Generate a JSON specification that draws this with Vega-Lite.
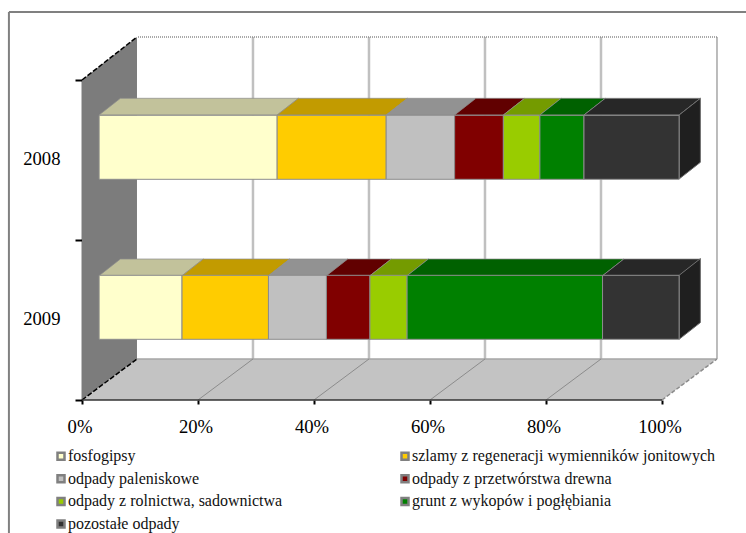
{
  "$schema": "https://vega.github.io/schema/vega-lite/v6.json",
  "width": 636,
  "height": 363,
  "padding": {"left": 82, "top": 37, "right": 28, "bottom": 133},
  "autosize": {"type": "none"},
  "background": "white",
  "config": {
    "font": "Liberation Serif",
    "view": {"stroke": null},
    "axis": {"labelFont": "Liberation Serif", "labelFontSize": 18.67, "labelColor": "#000000", "grid": false, "title": null},
    "legend": {"labelFont": "Liberation Serif", "labelFontSize": 16, "labelColor": "#111111"}
  },
  "datasets": {
    "shares": [
      {"year": "2008", "series": "fosfogipsy", "value": 30.7},
      {"year": "2008", "series": "szlamy z regeneracji wymienników jonitowych", "value": 18.8},
      {"year": "2008", "series": "odpady paleniskowe", "value": 11.8},
      {"year": "2008", "series": "odpady z przetwórstwa drewna", "value": 8.4},
      {"year": "2008", "series": "odpady z rolnictwa, sadownictwa", "value": 6.3},
      {"year": "2008", "series": "grunt z wykopów i pogłębiania", "value": 7.6},
      {"year": "2008", "series": "pozostałe odpady", "value": 16.4},
      {"year": "2009", "series": "fosfogipsy", "value": 14.3},
      {"year": "2009", "series": "szlamy z regeneracji wymienników jonitowych", "value": 14.9},
      {"year": "2009", "series": "odpady paleniskowe", "value": 10.0},
      {"year": "2009", "series": "odpady z przetwórstwa drewna", "value": 7.5},
      {"year": "2009", "series": "odpady z rolnictwa, sadownictwa", "value": 6.4},
      {"year": "2009", "series": "grunt z wykopów i pogłębiania", "value": 33.7},
      {"year": "2009", "series": "pozostałe odpady", "value": 13.2}
    ],
    "wallLeft": [
      {"x": 0, "y": 0, "y2": 320},
      {"x": 9.48, "y": 41, "y2": 363}
    ],
    "floor": [
      {"y": 0, "x": 0, "x2": 100},
      {"y": 41, "x": 9.48, "x2": 109.48}
    ],
    "gridBack": [
      {"x": 29.48}, {"x": 49.48}, {"x": 69.48}, {"x": 89.48}
    ],
    "floorLines": [
      {"id": "20", "x": 20, "y": 0}, {"id": "20", "x": 29.48, "y": 41},
      {"id": "40", "x": 40, "y": 0}, {"id": "40", "x": 49.48, "y": 41},
      {"id": "60", "x": 60, "y": 0}, {"id": "60", "x": 69.48, "y": 41},
      {"id": "80", "x": 80, "y": 0}, {"id": "80", "x": 89.48, "y": 41}
    ]
  },
  "layer": [
    {
      "description": "outer frame of the chart area",
      "data": {"values": [{"x": -12.6, "x2": 114.5, "y": 388, "y2": -133}]},
      "layer": [
        {
          "mark": {"type": "rule", "color": "#808080", "strokeWidth": 2},
          "encoding": {
            "x": {"field": "x", "type": "quantitative", "axis": null, "scale": {"domain": [0, 109.655], "nice": false, "zero": false}},
            "x2": {"field": "x2"},
            "y": {"field": "y", "type": "quantitative", "axis": null, "scale": {"domain": [0, 363], "nice": false}}
          }
        },
        {
          "mark": {"type": "rule", "color": "#808080", "strokeWidth": 2},
          "encoding": {
            "x": {"field": "x", "type": "quantitative", "axis": null, "scale": {"domain": [0, 109.655], "nice": false, "zero": false}},
            "y": {"field": "y", "type": "quantitative", "axis": null, "scale": {"domain": [0, 363], "nice": false}},
            "y2": {"field": "y2"}
          }
        }
      ]
    },
    {
      "description": "left wall",
      "data": {"name": "wallLeft"},
      "mark": {"type": "area", "orient": "vertical", "color": "#7c7c7c"},
      "encoding": {
        "x": {"field": "x", "type": "quantitative", "axis": null, "scale": {"domain": [0, 109.655], "nice": false, "zero": false}},
        "y": {"field": "y", "type": "quantitative", "axis": null, "scale": {"domain": [0, 363], "nice": false}},
        "y2": {"field": "y2"}
      }
    },
    {
      "description": "floor",
      "data": {"name": "floor"},
      "mark": {"type": "area", "orient": "horizontal", "color": "#c3c3c3"},
      "encoding": {
        "y": {"field": "y", "type": "quantitative", "axis": null, "scale": {"domain": [0, 363], "nice": false}},
        "x": {"field": "x", "type": "quantitative", "axis": null, "scale": {"domain": [0, 109.655], "nice": false, "zero": false}},
        "x2": {"field": "x2"}
      }
    },
    {
      "description": "vertical gridlines on the back wall",
      "data": {"name": "gridBack"},
      "mark": {"type": "rule", "color": "#c0c0c0", "strokeWidth": 2.5},
      "encoding": {
        "x": {"field": "x", "type": "quantitative", "axis": null, "scale": {"domain": [0, 109.655], "nice": false, "zero": false}},
        "y": {"datum": 41, "type": "quantitative", "axis": null, "scale": {"domain": [0, 363], "nice": false}},
        "y2": {"datum": 363}
      }
    },
    {
      "description": "right edge, back edge of the floor and dotted top edge",
      "data": {"values": [{"x": 109.48, "x2": 9.48}]},
      "layer": [
        {
          "mark": {"type": "rule", "color": "#a6a6a6", "strokeWidth": 1.5},
          "encoding": {
            "x": {"field": "x", "type": "quantitative", "axis": null, "scale": {"domain": [0, 109.655], "nice": false, "zero": false}},
            "y": {"datum": 41, "type": "quantitative", "axis": null, "scale": {"domain": [0, 363], "nice": false}},
            "y2": {"datum": 363}
          }
        },
        {
          "mark": {"type": "rule", "color": "#a6a6a6", "strokeWidth": 1.5},
          "encoding": {
            "x": {"field": "x", "type": "quantitative", "axis": null, "scale": {"domain": [0, 109.655], "nice": false, "zero": false}},
            "x2": {"field": "x2"},
            "y": {"datum": 41, "type": "quantitative", "axis": null, "scale": {"domain": [0, 363], "nice": false}}
          }
        },
        {
          "mark": {"type": "rule", "color": "#8c8c8c", "strokeWidth": 1.5, "strokeDash": [1, 1]},
          "encoding": {
            "x": {"field": "x", "type": "quantitative", "axis": null, "scale": {"domain": [0, 109.655], "nice": false, "zero": false}},
            "x2": {"field": "x2"},
            "y": {"datum": 363, "type": "quantitative", "axis": null, "scale": {"domain": [0, 363], "nice": false}}
          }
        }
      ]
    },
    {
      "description": "diagonal lines across the floor",
      "data": {"name": "floorLines"},
      "mark": {"type": "line", "color": "#8c8c8c", "strokeWidth": 1},
      "encoding": {
        "x": {"field": "x", "type": "quantitative", "axis": null, "scale": {"domain": [0, 109.655], "nice": false, "zero": false}},
        "y": {"field": "y", "type": "quantitative", "axis": null, "scale": {"domain": [0, 363], "nice": false}},
        "detail": {"field": "id"}
      }
    },
    {
      "description": "dashed diagonals: left wall top and left wall foot",
      "data": {"values": [
        {"id": "top", "x": 0, "y": 320}, {"id": "top", "x": 9.48, "y": 363},
        {"id": "foot", "x": 0, "y": 0}, {"id": "foot", "x": 9.48, "y": 41}
      ]},
      "mark": {"type": "line", "color": "#000000", "strokeWidth": 1.5, "strokeDash": [5, 2]},
      "encoding": {
        "x": {"field": "x", "type": "quantitative", "axis": null, "scale": {"domain": [0, 109.655], "nice": false, "zero": false}},
        "y": {"field": "y", "type": "quantitative", "axis": null, "scale": {"domain": [0, 363], "nice": false}},
        "detail": {"field": "id"}
      }
    },
    {
      "description": "dashed right side of the floor",
      "data": {"values": [{"id": "right", "x": 100, "y": 0}, {"id": "right", "x": 109.48, "y": 41}]},
      "mark": {"type": "line", "color": "#8c8c8c", "strokeWidth": 1.5, "strokeDash": [4, 2]},
      "encoding": {
        "x": {"field": "x", "type": "quantitative", "axis": null, "scale": {"domain": [0, 109.655], "nice": false, "zero": false}},
        "y": {"field": "y", "type": "quantitative", "axis": null, "scale": {"domain": [0, 363], "nice": false}}
      }
    },
    {
      "description": "top faces of the stacked blocks",
      "data": {"name": "shares"},
      "transform": [
        {"stack": "value", "groupby": ["year"], "as": ["s0", "s1"]},
        {"calculate": "[0, 1]", "as": "level"},
        {"flatten": ["level"]},
        {"calculate": "datum.s0 + 2.95 + datum.level * 3.67", "as": "fx0"},
        {"calculate": "datum.s1 + 2.95 + datum.level * 3.67", "as": "fx1"},
        {"calculate": "(datum.year === '2008' ? 285 : 124.3) + datum.level * 16.7", "as": "fy"}
      ],
      "mark": {"type": "area", "orient": "horizontal", "stroke": "#8c8c8c", "strokeWidth": 1, "strokeOpacity": 0.7},
      "encoding": {
        "y": {"field": "fy", "type": "quantitative", "axis": null, "scale": {"domain": [0, 363], "nice": false}},
        "x": {"field": "fx0", "type": "quantitative", "axis": null, "scale": {"domain": [0, 109.655], "nice": false, "zero": false}},
        "x2": {"field": "fx1"},
        "detail": {"field": "year"},
        "color": {
          "field": "series", "type": "nominal", "legend": null,
          "scale": {
            "domain": ["fosfogipsy", "szlamy z regeneracji wymienników jonitowych", "odpady paleniskowe", "odpady z przetwórstwa drewna", "odpady z rolnictwa, sadownictwa", "grunt z wykopów i pogłębiania", "pozostałe odpady"],
            "range": ["#c2c29b", "#c29b00", "#929292", "#610000", "#749b00", "#006100", "#272727"]
          }
        }
      }
    },
    {
      "description": "right end faces of the blocks",
      "data": {"name": "shares"},
      "transform": [
        {"stack": "value", "groupby": ["year"], "as": ["s0", "s1"]},
        {"filter": "datum.series === 'pozostałe odpady'"},
        {"calculate": "[0, 1]", "as": "level"},
        {"flatten": ["level"]},
        {"calculate": "datum.s1 + 2.95 + datum.level * 3.67", "as": "fx"},
        {"calculate": "(datum.year === '2008' ? 221 : 60.7) + datum.level * 16.7", "as": "fy0"},
        {"calculate": "datum.fy0 + 64", "as": "fy1"}
      ],
      "mark": {"type": "area", "orient": "vertical", "color": "#1f1f1f", "stroke": "#6e6e6e", "strokeWidth": 1},
      "encoding": {
        "x": {"field": "fx", "type": "quantitative", "axis": null, "scale": {"domain": [0, 109.655], "nice": false, "zero": false}},
        "y": {"field": "fy0", "type": "quantitative", "axis": null, "scale": {"domain": [0, 363], "nice": false}},
        "y2": {"field": "fy1"},
        "detail": {"field": "year"}
      }
    },
    {
      "description": "front faces with the legend, percentage axis and year axis",
      "data": {"name": "shares"},
      "transform": [
        {"stack": "value", "groupby": ["year"], "as": ["s0", "s1"]}
      ],
      "mark": {"type": "bar", "height": 64, "xOffset": 17.1, "x2Offset": 17.1, "yOffset": -12.7, "stroke": "#8c8c8c", "strokeWidth": 1},
      "encoding": {
        "x": {
          "field": "s0", "type": "quantitative",
          "scale": {"domain": [0, 109.655], "nice": false, "zero": false},
          "axis": {
            "values": [0, 20, 40, 60, 80, 100], "labelExpr": "datum.value + '%'",
            "domain": false, "tickColor": "#000000", "tickWidth": 2, "tickSize": 4,
            "labelPadding": 13, "labelOffset": -2.5, "labelFlush": false, "labelOverlap": false, "title": null
          }
        },
        "x2": {"field": "s1"},
        "y": {
          "field": "year", "type": "ordinal",
          "scale": {"type": "band", "domain": ["2008", "2009"], "range": [43, 363], "paddingInner": 0, "paddingOuter": 0},
          "axis": {
            "tickBand": "extent", "domainColor": "#000000", "domainWidth": 1.5,
            "tickColor": "#000000", "tickWidth": 2, "tickSize": 7, "labelPadding": 15, "labelAngle": 0, "labelOffset": -2
          }
        },
        "color": {
          "field": "series", "type": "nominal",
          "scale": {
            "domain": ["fosfogipsy", "odpady paleniskowe", "odpady z rolnictwa, sadownictwa", "pozostałe odpady", "szlamy z regeneracji wymienników jonitowych", "odpady z przetwórstwa drewna", "grunt z wykopów i pogłębiania"],
            "range": ["#ffffcc", "#c0c0c0", "#99cc00", "#333333", "#ffcc00", "#800000", "#008000"]
          },
          "legend": {
            "orient": "none", "legendX": -29, "legendY": 411, "columns": 2, "title": null,
            "symbolType": "square", "symbolSize": 49, "symbolStrokeColor": "#808080", "symbolStrokeWidth": 2.5,
            "columnPadding": 113, "rowPadding": 4.7, "labelLimit": 400, "labelOffset": -1, "padding": 0
          }
        }
      }
    },
    {
      "description": "horizontal axis line",
      "data": {"values": [{"x": 0, "x2": 100}]},
      "mark": {"type": "rule", "color": "#333333", "strokeWidth": 1.5},
      "encoding": {
        "x": {"field": "x", "type": "quantitative", "axis": null, "scale": {"domain": [0, 109.655], "nice": false, "zero": false}},
        "x2": {"field": "x2"},
        "y": {"datum": 0, "type": "quantitative", "axis": null, "scale": {"domain": [0, 363], "nice": false}}
      }
    }
  ],
  "resolve": {
    "scale": {"y": "independent", "color": "independent"},
    "axis": {"x": "independent", "y": "independent"}
  }
}
